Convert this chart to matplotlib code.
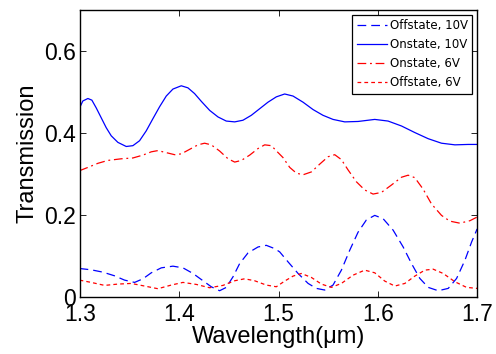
import numpy as np
import matplotlib
matplotlib.use("Agg")
import matplotlib.pyplot as plt

plt.rcParams["font.family"] = ["Liberation Sans", "DejaVu Sans"]

# %% Data

# Onstate, 10V (solid blue)
on10_x = [1.2997, 1.3030, 1.3081, 1.3121, 1.3165, 1.3215, 1.3265, 1.3316, 1.3383, 1.3467,
          1.3534, 1.3601, 1.3668, 1.3736, 1.3803, 1.3870, 1.3937, 1.4021, 1.4088, 1.4155,
          1.4223, 1.4307, 1.4391, 1.4474, 1.4559, 1.4642, 1.4726, 1.4810, 1.4894, 1.4978,
          1.5062, 1.5146, 1.5247, 1.5348, 1.5448, 1.5549, 1.5667, 1.5801, 1.5969, 1.6103,
          1.6238, 1.6372, 1.6507, 1.6641, 1.6776, 1.6910, 1.7000]
on10_y = [0.461, 0.478, 0.484, 0.480, 0.461, 0.437, 0.413, 0.393, 0.377, 0.367,
          0.369, 0.381, 0.405, 0.435, 0.464, 0.490, 0.507, 0.515, 0.510, 0.496,
          0.477, 0.455, 0.439, 0.429, 0.427, 0.431, 0.443, 0.459, 0.475, 0.488,
          0.495, 0.490, 0.475, 0.457, 0.443, 0.433, 0.427, 0.428, 0.433, 0.429,
          0.417, 0.401, 0.386, 0.375, 0.371, 0.372, 0.372]

# Onstate, 6V (red dash-dot)
on6_x = [1.2997, 1.3081, 1.3182, 1.3282, 1.3417, 1.3534, 1.3635, 1.3719, 1.3786, 1.3870,
         1.3954, 1.4021, 1.4105, 1.4189, 1.4256, 1.4323, 1.4407, 1.4492, 1.4559, 1.4626,
         1.4710, 1.4794, 1.4861, 1.4928, 1.4988, 1.5045, 1.5113, 1.5180, 1.5247, 1.5331,
         1.5415, 1.5499, 1.5566, 1.5633, 1.5700, 1.5784, 1.5868, 1.5952, 1.6036, 1.6137,
         1.6238, 1.6305, 1.6372, 1.6456, 1.6540, 1.6641, 1.6725, 1.6826, 1.6927, 1.7000]
on6_y = [0.308, 0.316, 0.326, 0.333, 0.337, 0.339, 0.346, 0.354, 0.357, 0.352,
         0.347, 0.349, 0.360, 0.371, 0.375, 0.371, 0.356, 0.337, 0.329, 0.333,
         0.346, 0.362, 0.371, 0.369, 0.354, 0.340, 0.316, 0.302, 0.298, 0.305,
         0.324, 0.342, 0.347, 0.335, 0.310, 0.281, 0.261, 0.251, 0.255, 0.273,
         0.292, 0.297, 0.291, 0.263, 0.227, 0.199, 0.185, 0.180, 0.186, 0.195]

# Offstate, 10V (blue dashed)
off10_x = [1.2997, 1.3114, 1.3232, 1.3349, 1.3450, 1.3551, 1.3635, 1.3719, 1.3820, 1.3937,
           1.4038, 1.4139, 1.4240, 1.4323, 1.4407, 1.4474, 1.4542, 1.4609, 1.4693, 1.4794,
           1.4877, 1.4961, 1.5012, 1.5096, 1.5197, 1.5298, 1.5381, 1.5465, 1.5549, 1.5633,
           1.5717, 1.5801, 1.5885, 1.5969, 1.6053, 1.6154, 1.6255, 1.6339, 1.6423, 1.6507,
           1.6608, 1.6709, 1.6793, 1.6877, 1.6944, 1.7000]
off10_y = [0.0695, 0.0663, 0.0606, 0.0517, 0.0412, 0.0356, 0.0444, 0.0590, 0.0711, 0.0752,
           0.0711, 0.0574, 0.0396, 0.0250, 0.0153, 0.0234, 0.0493, 0.0816, 0.1075, 0.1220,
           0.1260, 0.1180, 0.1100, 0.0857, 0.0574, 0.0331, 0.0210, 0.0170, 0.0291, 0.0655,
           0.1140, 0.1580, 0.1880, 0.1990, 0.1910, 0.1630, 0.1220, 0.0816, 0.0453, 0.0235,
           0.0153, 0.0210, 0.0453, 0.0897, 0.1340, 0.1660]

# Offstate, 6V (red short dashes)
off6_x = [1.2997, 1.3114, 1.3249, 1.3383, 1.3517, 1.3652, 1.3786, 1.3920, 1.4038, 1.4172,
          1.4306, 1.4441, 1.4559, 1.4659, 1.4760, 1.4877, 1.4978, 1.5062, 1.5146, 1.5230,
          1.5331, 1.5432, 1.5532, 1.5633, 1.5751, 1.5868, 1.5969, 1.6070, 1.6171, 1.6272,
          1.6372, 1.6473, 1.6557, 1.6658, 1.6776, 1.6893, 1.7000]
off6_y = [0.0412, 0.0356, 0.0283, 0.0315, 0.0331, 0.0267, 0.0202, 0.0291, 0.0356, 0.0307,
          0.0226, 0.0283, 0.0396, 0.0444, 0.0396, 0.0291, 0.0250, 0.0388, 0.0509, 0.0574,
          0.0477, 0.0315, 0.0235, 0.0331, 0.0533, 0.0655, 0.0590, 0.0388, 0.0267, 0.0331,
          0.0509, 0.0655, 0.0679, 0.0574, 0.0372, 0.0235, 0.0210]

xticks = [1.3, 1.4, 1.5, 1.6, 1.7]
yticks = [0, 0.2, 0.4, 0.6]

# %% Plot
fig = plt.figure(figsize=(4.96, 3.54), dpi=100)
ax = fig.add_axes([0.161, 0.161, 0.801, 0.811])

ax.plot(off10_x, off10_y, color="blue", lw=0.9, dashes=(7, 4), label="Offstate, 10V")
ax.plot(on10_x, on10_y, color="blue", lw=0.9, ls="-", label="Onstate, 10V")
ax.plot(on6_x, on6_y, color="red", lw=0.9, dashes=(7, 3, 1.5, 3), label="Onstate, 6V")
ax.plot(off6_x, off6_y, color="red", lw=0.9, dashes=(3, 2.5), label="Offstate, 6V")

ax.set_xlim(1.3, 1.7)
ax.set_ylim(0, 0.7)
ax.set_xticks(xticks)
ax.set_xticklabels(["1.3", "1.4", "1.5", "1.6", "1.7"])
ax.set_yticks(yticks)
ax.set_yticklabels(["0", "0.2", "0.4", "0.6"])
ax.tick_params(direction="in", top=True, right=True, labelsize=16.5, length=4, width=0.6)
ax.tick_params(axis="x", pad=4)
ax.tick_params(axis="y", pad=3)
for s in ax.spines.values():
    s.set_linewidth(1.0)

ax.set_xlabel("Wavelength(μm)", fontsize=17, labelpad=0)
ax.set_ylabel("Transmission", fontsize=17, labelpad=4)

leg = ax.legend(loc="upper right",
                prop={"family": "DejaVu Sans", "size": 8.5},
                fancybox=False, framealpha=1,
                edgecolor="black", handlelength=2.6, handletextpad=0.2,
                labelspacing=0.5, borderpad=0.4, borderaxespad=0.4)
leg.get_frame().set_linewidth(0.9)

fig.savefig("out.png", dpi=100)
